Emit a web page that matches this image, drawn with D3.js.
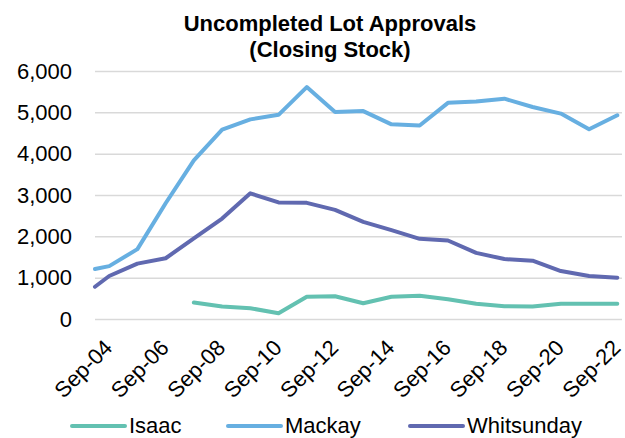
<!DOCTYPE html>
<html>
<head>
<meta charset="utf-8">
<script src="https://cdn.jsdelivr.net/npm/d3@7"></script>
<style>
  html, body { margin: 0; padding: 0; background: #fff; }
  svg { display: block; font-family: 'Liberation Sans', Arial, sans-serif; }
</style>
</head>
<body>
<div id="app"></div>
<script>
const width = 625;
const height = 438;

// closing stock, first point is Mar-04 then yearly at September
const periods = ['2004-03', '2004-09', '2005-09', '2006-09', '2007-09', '2008-09', '2009-09',
  '2010-09', '2011-09', '2012-09', '2013-09', '2014-09', '2015-09', '2016-09', '2017-09',
  '2018-09', '2019-09', '2020-09', '2021-09', '2022-09'];
const isaac = [null, null, null, null, 400, 300, 260, 140, 540, 550, 380, 540, 560, 480,
  370, 310, 300, 370, 370, 370];
const mackay = [1210, 1280, 1690, 2800, 3840, 4580, 4830, 4940, 5610, 5010, 5030, 4710,
  4680, 5230, 5260, 5330, 5130, 4970, 4590, 4930];
const whitsunday = [780, 1040, 1340, 1470, 1950, 2430, 3040, 2820, 2810, 2640, 2350, 2150,
  1940, 1900, 1600, 1450, 1410, 1160, 1040, 1000];
const yTicks = [0, 1000, 2000, 3000, 4000, 5000, 6000];
const xTickYears = [2004, 2006, 2008, 2010, 2012, 2014, 2016, 2018, 2020, 2022];

const seriesNames = ['Isaac', 'Mackay', 'Whitsunday'];
const seriesColors = ['#63c1b1', '#67afe1', '#6069b0'];

const parse = d3.timeParse('%Y-%m');
const dates = periods.map(parse);
const series = [isaac, mackay, whitsunday].map((vals, i) => ({
  name: seriesNames[i],
  color: seriesColors[i],
  values: vals.map((v, j) => ({ date: dates[j], value: v }))
}));

const margin = { top: 71, right: 3, bottom: 119, left: 95 };

const x = d3.scaleTime()
  .domain([dates[0], parse('2022-11')])
  .range([margin.left, width - margin.right]);

const y = d3.scaleLinear()
  .domain([0, 6000])
  .range([height - margin.bottom, margin.top]);

const svg = d3.select('#app').append('svg')
  .attr('width', width)
  .attr('height', height);

// title
svg.append('text')
  .attr('x', 330)
  .attr('y', 31)
  .attr('text-anchor', 'middle')
  .attr('font-size', 22)
  .attr('font-weight', 'bold')
  .selectAll('tspan')
  .data(['Uncompleted Lot Approvals', '(Closing Stock)'])
  .enter().append('tspan')
  .attr('x', 330)
  .attr('dy', (_, i) => i ? 26 : 0)
  .text(d => d);

// gridlines + y labels
const yAxis = svg.append('g')
  .attr('transform', `translate(${margin.left},0)`)
  .call(
    d3.axisLeft(y)
      .tickValues(yTicks)
      .tickSize(-(width - margin.left - margin.right))
      .tickPadding(23)
      .tickFormat(d3.format(','))
  );
yAxis.select('.domain').remove();
yAxis.selectAll('.tick line').attr('stroke', '#d9d9d9').attr('stroke-width', 1.5);
yAxis.selectAll('.tick text')
  .attr('font-size', 22)
  .attr('fill', '#000')
  .attr('font-family', "'Liberation Sans', Arial, sans-serif");

// x labels
const xAxis = svg.append('g')
  .attr('transform', `translate(0,${height - margin.bottom})`)
  .call(
    d3.axisBottom(x)
      .tickValues(xTickYears.map(yr => new Date(yr, 8, 1)))
      .tickSize(0)
      .tickFormat(d3.timeFormat('Sep-%y'))
  );
xAxis.select('.domain').remove();
xAxis.selectAll('.tick text')
  .attr('font-size', 22)
  .attr('fill', '#000')
  .attr('font-family', "'Liberation Sans', Arial, sans-serif")
  .attr('text-anchor', 'end')
  .attr('dy', null)
  .attr('y', 0)
  .attr('transform', 'translate(4,30) rotate(-45)');

// lines
const line = d3.line()
  .defined(d => d.value != null)
  .x(d => x(d.date))
  .y(d => y(d.value));

svg.append('g')
  .selectAll('path')
  .data(series)
  .enter().append('path')
  .attr('fill', 'none')
  .attr('stroke', d => d.color)
  .attr('stroke-width', 4)
  .attr('stroke-linejoin', 'round')
  .attr('stroke-linecap', 'round')
  .attr('d', d => line(d.values));

// legend
const legendX = [72, 228, 410];
const legend = svg.append('g')
  .selectAll('g')
  .data(series)
  .enter().append('g')
  .attr('transform', (_, i) => `translate(${legendX[i]},426)`);

legend.append('line')
  .attr('x1', 0).attr('x2', 53)
  .attr('stroke', d => d.color)
  .attr('stroke-width', 4)
  .attr('stroke-linecap', 'round');

legend.append('text')
  .attr('x', 57)
  .attr('y', 7)
  .attr('font-size', 22)
  .text(d => d.name);
</script>
</body>
</html>
